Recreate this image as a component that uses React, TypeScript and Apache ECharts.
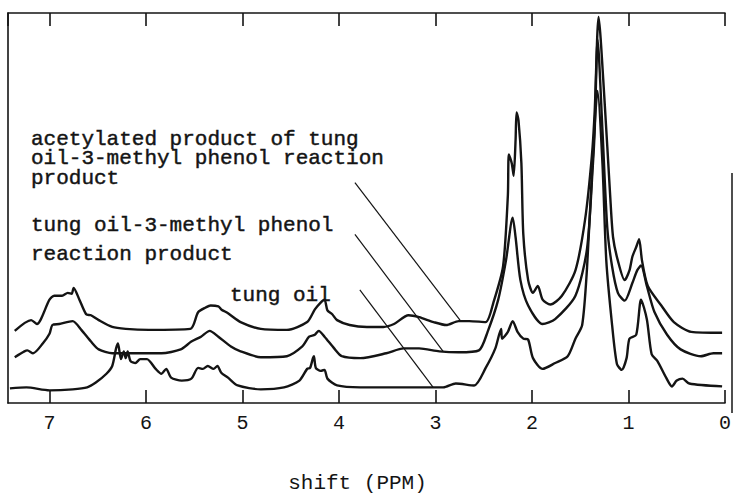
import React, { useEffect, useRef } from "react";
import * as echarts from "echarts";

// chemical shift (ppm), intensity (arbitrary units, offset traces)
const acetylatedProduct: [number, number][] = [
  [7.36, 74], [7.19, 85], [7.13, 81], [7.0, 106], [6.95, 110], [6.87, 110], [6.81, 113], [6.77, 112], [6.75, 118],
  [6.69, 106], [6.62, 91], [6.57, 90], [6.49, 85], [6.35, 78], [6.21, 76], [5.97, 75], [5.54, 76], [5.46, 93],
  [5.38, 98], [5.33, 100], [5.25, 99], [5.22, 96], [5.15, 92], [5.02, 83], [4.81, 76], [4.54, 75], [4.33, 83],
  [4.25, 96], [4.19, 103], [4.15, 106], [4.12, 95], [4.07, 91], [4.02, 85], [3.89, 80], [3.71, 78], [3.54, 78],
  [3.43, 81], [3.28, 90], [3.17, 88], [3.02, 83], [2.89, 80], [2.76, 84], [2.65, 84], [2.48, 83], [2.4, 103],
  [2.3, 140], [2.25, 213], [2.24, 255], [2.21, 246], [2.19, 233], [2.17, 270], [2.16, 298], [2.14, 290],
  [2.11, 246], [2.09, 173], [2.04, 126], [1.99, 113], [1.94, 120], [1.89, 106], [1.81, 101], [1.69, 110],
  [1.55, 136], [1.45, 188], [1.38, 253], [1.35, 300], [1.31, 396], [1.25, 313], [1.19, 213], [1.16, 170],
  [1.11, 146], [1.04, 126], [0.99, 136], [0.96, 150], [0.92, 160], [0.89, 168], [0.86, 146], [0.8, 120],
  [0.66, 100], [0.53, 83], [0.35, 73], [0.03, 72],
];

const reactionProduct: [number, number][] = [
  [7.36, 47], [7.26, 53], [7.23, 54], [7.17, 51], [7.07, 61], [7.0, 71], [6.97, 80], [6.9, 81], [6.76, 84],
  [6.67, 75], [6.57, 63], [6.49, 55], [6.35, 51], [6.15, 51], [5.84, 51], [5.64, 55], [5.53, 63], [5.43, 68],
  [5.34, 74], [5.25, 68], [5.12, 58], [5.02, 53], [4.81, 47], [4.54, 48], [4.38, 58], [4.31, 68], [4.25, 70],
  [4.21, 74], [4.15, 68], [4.05, 56], [3.97, 48], [3.78, 46], [3.51, 51], [3.33, 56], [3.17, 56], [2.96, 53],
  [2.76, 52], [2.55, 54], [2.46, 73], [2.35, 106], [2.27, 146], [2.2, 190], [2.17, 170], [2.12, 126],
  [2.04, 100], [1.89, 81], [1.76, 86], [1.55, 110], [1.43, 158], [1.37, 243], [1.35, 280], [1.32, 373],
  [1.27, 280], [1.22, 180], [1.17, 140], [1.11, 113], [1.04, 105], [0.96, 123], [0.91, 136], [0.87, 141],
  [0.81, 120], [0.73, 93], [0.6, 70], [0.46, 55], [0.25, 48], [0.12, 51], [0.03, 51],
];

const tungOil: [number, number][] = [
  [7.41, 15], [7.24, 16], [7.0, 13], [6.76, 14], [6.61, 16], [6.52, 21], [6.41, 30], [6.35, 38], [6.31, 56],
  [6.29, 61], [6.26, 45], [6.23, 53], [6.21, 46], [6.19, 53], [6.16, 43], [6.11, 41], [6.06, 45], [5.99, 45],
  [5.9, 35], [5.84, 30], [5.79, 35], [5.74, 26], [5.63, 23], [5.53, 25], [5.46, 36], [5.41, 35], [5.36, 38],
  [5.3, 35], [5.26, 38], [5.22, 31], [5.15, 26], [5.05, 18], [4.81, 14], [4.57, 16], [4.41, 23], [4.33, 35],
  [4.3, 36], [4.27, 46], [4.26, 48], [4.24, 36], [4.19, 33], [4.15, 34], [4.12, 25], [4.02, 18], [3.78, 16],
  [3.43, 16], [3.1, 16], [2.92, 16], [2.79, 20], [2.6, 18], [2.48, 36], [2.38, 56], [2.32, 76], [2.31, 66],
  [2.25, 73], [2.2, 84], [2.15, 73], [2.09, 66], [2.04, 65], [1.99, 46], [1.89, 35], [1.76, 41], [1.63, 48],
  [1.55, 66], [1.48, 80], [1.43, 138], [1.38, 233], [1.32, 320], [1.27, 246], [1.23, 146], [1.17, 80],
  [1.12, 40], [1.07, 34], [1.02, 46], [0.99, 66], [0.92, 70], [0.87, 106], [0.81, 86], [0.76, 50], [0.7, 43],
  [0.61, 26], [0.55, 17], [0.5, 23], [0.44, 25], [0.37, 20], [0.03, 17],
];

// leader lines: [start(ppm,intensity), end(ppm,intensity)]
const leaderLines: [[number, number], [number, number]][] = [
  [[3.835, 226], [2.746, 85]],
  [[3.835, 173], [2.921, 53]],
  [[3.784, 116], [3.024, 16]],
];

const acetylatedLabelLines = ["acetylated product of tung", "oil-3-methyl phenol reaction", "product"];
const reactionLabelLines = ["tung oil-3-methyl phenol", "reaction product"];
const tungOilLabel = "tung oil";

const axisName = "shift (PPM)";
const ppmMin = 0;
const ppmMax = 7.43;
const intensityMax = 400;

const FONT = '"Liberation Mono", "Courier New", monospace';
const INK = "#141414";

export default function App() {
  const ref = useRef<HTMLDivElement>(null);

  useEffect(() => {
    if (!ref.current) return;
    const chart = echarts.init(ref.current, null, { renderer: "svg" });

    const textEl = (text: string, x: number, y: number) => ({
      type: "text",
      x,
      y,
      style: {
        text,
        font: `21px ${FONT}`,
        fill: INK,
        stroke: INK,
        lineWidth: 0.45,
        align: "left",
        verticalAlign: "middle",
      },
    });

    const traceStyle = { color: INK, width: 2.4 };

    chart.setOption({
      animation: false,
      backgroundColor: "#ffffff",
      grid: { left: 8, right: 3, top: 13, bottom: 86, containLabel: false },
      xAxis: [
        {
          type: "value",
          min: ppmMin,
          max: ppmMax,
          interval: 1,
          inverse: true,
          position: "bottom",
          name: axisName,
          nameLocation: "middle",
          nameGap: 70,
          nameTextStyle: { fontFamily: FONT, fontSize: 21, color: INK, padding: [0, 18, 0, 0] },
          axisLine: { show: true, lineStyle: { color: INK, width: 1.6 } },
          axisTick: { show: true, inside: true, length: 13, lineStyle: { color: INK, width: 1.6 } },
          axisLabel: {
            show: true,
            margin: 10,
            fontFamily: FONT,
            fontSize: 20,
            color: INK,
            showMaxLabel: false,
          },
          splitLine: { show: false },
        },
        {
          type: "value",
          min: ppmMin,
          max: ppmMax,
          interval: 1,
          inverse: true,
          position: "top",
          axisLine: { show: true, lineStyle: { color: INK, width: 1.6 } },
          axisTick: { show: true, inside: true, length: 13, lineStyle: { color: INK, width: 1.6 } },
          axisLabel: { show: false },
          splitLine: { show: false },
        },
      ],
      yAxis: {
        type: "value",
        min: 0,
        max: intensityMax,
        axisLine: { show: true, onZero: false, lineStyle: { color: INK, width: 1.6 } },
        axisTick: { show: false },
        axisLabel: { show: false },
        splitLine: { show: false },
      },
      series: [
        {
          type: "line",
          name: "acetylated product",
          data: acetylatedProduct,
          showSymbol: false,
          smooth: 0.25,
          lineStyle: traceStyle,
          markLine: {
            silent: true,
            symbol: ["none", "none"],
            label: { show: false },
            lineStyle: { color: INK, width: 1.2, type: "solid" },
            data: leaderLines.map(([a, b]) => [{ coord: a }, { coord: b }]),
          },
        },
        {
          type: "line",
          name: "reaction product",
          data: reactionProduct,
          showSymbol: false,
          smooth: 0.25,
          lineStyle: traceStyle,
        },
        {
          type: "line",
          name: "tung oil",
          data: tungOil,
          showSymbol: false,
          smooth: 0.25,
          lineStyle: traceStyle,
        },
      ],
      graphic: [
        textEl(acetylatedLabelLines[0], 31, 139),
        textEl(acetylatedLabelLines[1], 31, 158.5),
        textEl(acetylatedLabelLines[2], 31, 178),
        textEl(reactionLabelLines[0], 31, 225),
        textEl(reactionLabelLines[1], 31, 254),
        textEl(tungOilLabel, 230, 295),
        {
          type: "line",
          shape: { x1: 732, y1: 173, x2: 732, y2: 413 },
          style: { stroke: INK, lineWidth: 1.5 },
        },
      ],
    });

    return () => chart.dispose();
  }, []);

  return (
    <div
      ref={ref}
      style={{ position: "absolute", left: 0, top: 0, width: 734, height: 499, background: "#fff" }}
    />
  );
}
